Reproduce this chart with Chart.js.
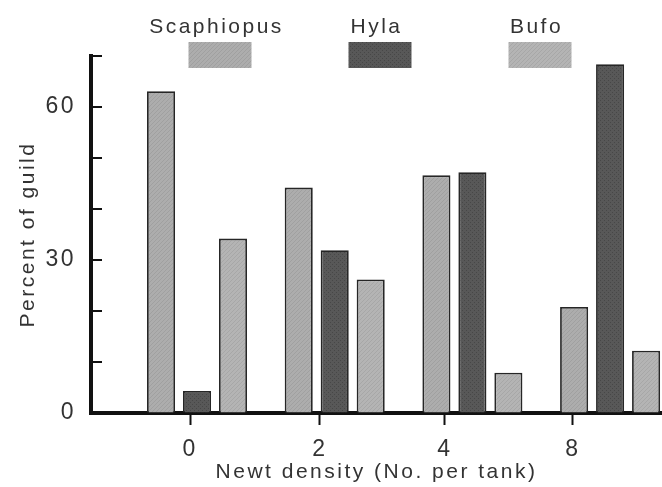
<!DOCTYPE html>
<html>
<head>
<meta charset="utf-8">
<script src="https://cdn.jsdelivr.net/npm/chart.js@4.4.0/dist/chart.umd.min.js"></script>
<style>
html, body { margin: 0; padding: 0; background: #fff; }
#wrap { width: 662px; height: 487px; }
</style>
</head>
<body>
<div id="wrap"><canvas id="guild"></canvas></div>
<script>
// newt density groups and percent of guild per species
var densities = ['0', '2', '4', '8'];
var speciesNames = ['Scaphiopus', 'Hyla', 'Bufo'];
var scaphiopus = [63.1, 44.2, 46.6, 20.8];
var hyla = [4.3, 31.9, 47.2, 68.4];
var bufo = [34.2, 26.2, 7.9, 12.2];
var yLabelled = [0, 30, 60];

function texture(base, dot, kind) {
    var c = document.createElement('canvas');
    c.width = 4; c.height = 4;
    var g = c.getContext('2d');
    g.fillStyle = base;
    g.fillRect(0, 0, 4, 4);
    g.fillStyle = dot;
    if (kind === 'hatch') {
        for (var i = 0; i < 4; i++) g.fillRect(i, 3 - i, 1, 1);
    } else {
        g.fillRect(0, 0, 1, 1);
        g.fillRect(2, 2, 1, 1);
    }
    return g.createPattern(c, 'repeat');
}

var fills = [
    texture('#adadad', '#a0a0a0', 'hatch'),
    texture('#585858', '#474747', 'dots'),
    texture('#b4b4b4', '#a7a7a7', 'hatch')
];
var seriesValues = [scaphiopus, hyla, bufo];

Chart.defaults.font.family = "'Liberation Sans', Arial, sans-serif";
Chart.defaults.color = '#333';

var spacing = {
    id: 'spacing',
    beforeDraw: function (chart) { chart.ctx.letterSpacing = '2.5px'; }
};

// inward ticks on the y axis
var innerTicks = {
    id: 'innerTicks',
    afterDraw: function (chart) {
        var ctx = chart.ctx, y = chart.scales.y, left = chart.chartArea.left;
        ctx.save();
        ctx.strokeStyle = '#111';
        ctx.lineWidth = 2;
        for (var v = 10; v <= 70; v += 10) {
            var py = y.getPixelForValue(v);
            ctx.beginPath();
            ctx.moveTo(left, py);
            ctx.lineTo(left + 11, py);
            ctx.stroke();
        }
        ctx.restore();
    }
};

// legend: name above swatch
var topLegend = {
    id: 'topLegend',
    afterDraw: function (chart) {
        var ctx = chart.ctx, area = chart.chartArea;
        var mid = (area.left + area.right) / 2;
        ctx.save();
        ctx.font = "21px 'Liberation Sans', Arial, sans-serif";
        ctx.textAlign = 'center';
        ctx.textBaseline = 'alphabetic';
        chart.data.datasets.forEach(function (ds, i) {
            var cx = mid + (i - 1) * 160;
            ctx.fillStyle = '#333';
            ctx.fillText(ds.label, cx, 33);
            ctx.fillStyle = ds.backgroundColor;
            ctx.fillRect(cx + 3 - 31, 42, 63, 26);
        });
        ctx.restore();
    }
};

var ctx = document.getElementById('guild').getContext('2d');
new Chart(ctx, {
    type: 'bar',
    data: {
        datasets: speciesNames.map(function (name, s) {
            return {
                label: name,
                data: seriesValues[s].map(function (v, i) { return { x: i, y: v }; }),
                backgroundColor: fills[s],
                borderColor: '#262626',
                borderWidth: 1.8,
                categoryPercentage: 0.784,
                barPercentage: 0.78
            };
        })
    },
    plugins: [spacing, innerTicks, topLegend],
    options: {
        responsive: true,
        maintainAspectRatio: false,
        animation: false,
        layout: { padding: { top: 56, left: 0, right: 0, bottom: 0 } },
        plugins: {
            legend: { display: false },
            tooltip: { enabled: false }
        },
        scales: {
            x: {
                type: 'linear',
                display: false,
                offset: false,
                min: -0.77,
                max: 3.377,
                grid: { offset: false },
                afterBuildTicks: function (s) {
                    s.ticks = densities.map(function (d, i) { return { value: i }; });
                }
            },
            x2: {
                type: 'linear',
                axis: 'x',
                position: 'bottom',
                offset: false,
                min: -0.77,
                max: 3.377,
                afterBuildTicks: function (s) {
                    s.ticks = [-0.05, 0.893, 1.80, 2.73].map(function (v) { return { value: v }; });
                },
                ticks: {
                    autoSkip: false,
                    maxRotation: 0,
                    padding: 11,
                    font: { size: 23 },
                    callback: function (v, i) { return densities[i]; }
                },
                grid: {
                    offset: false,
                    drawOnChartArea: false,
                    drawTicks: true,
                    tickLength: 12,
                    tickWidth: 2,
                    tickColor: '#111'
                },
                border: { display: true, width: 4, color: '#111' },
                title: {
                    display: true,
                    text: 'Newt density (No. per tank)',
                    font: { size: 21 },
                    padding: { top: 0, bottom: 2 }
                },
                afterFit: function (s) { s.height = 74; }
            },
            y: {
                min: 0,
                max: 70,
                ticks: {
                    stepSize: 10,
                    padding: 15,
                    font: { size: 23 },
                    callback: function (v) { return yLabelled.indexOf(v) >= 0 ? v : ''; }
                },
                grid: { drawOnChartArea: false, drawTicks: false },
                border: { display: true, width: 4, color: '#111' },
                title: {
                    display: true,
                    text: 'Percent of guild',
                    font: { size: 21 },
                    padding: { top: 16, bottom: 0 }
                },
                afterFit: function (s) { s.width = 91; }
            }
        }
    }
});
</script>
</body>
</html>
